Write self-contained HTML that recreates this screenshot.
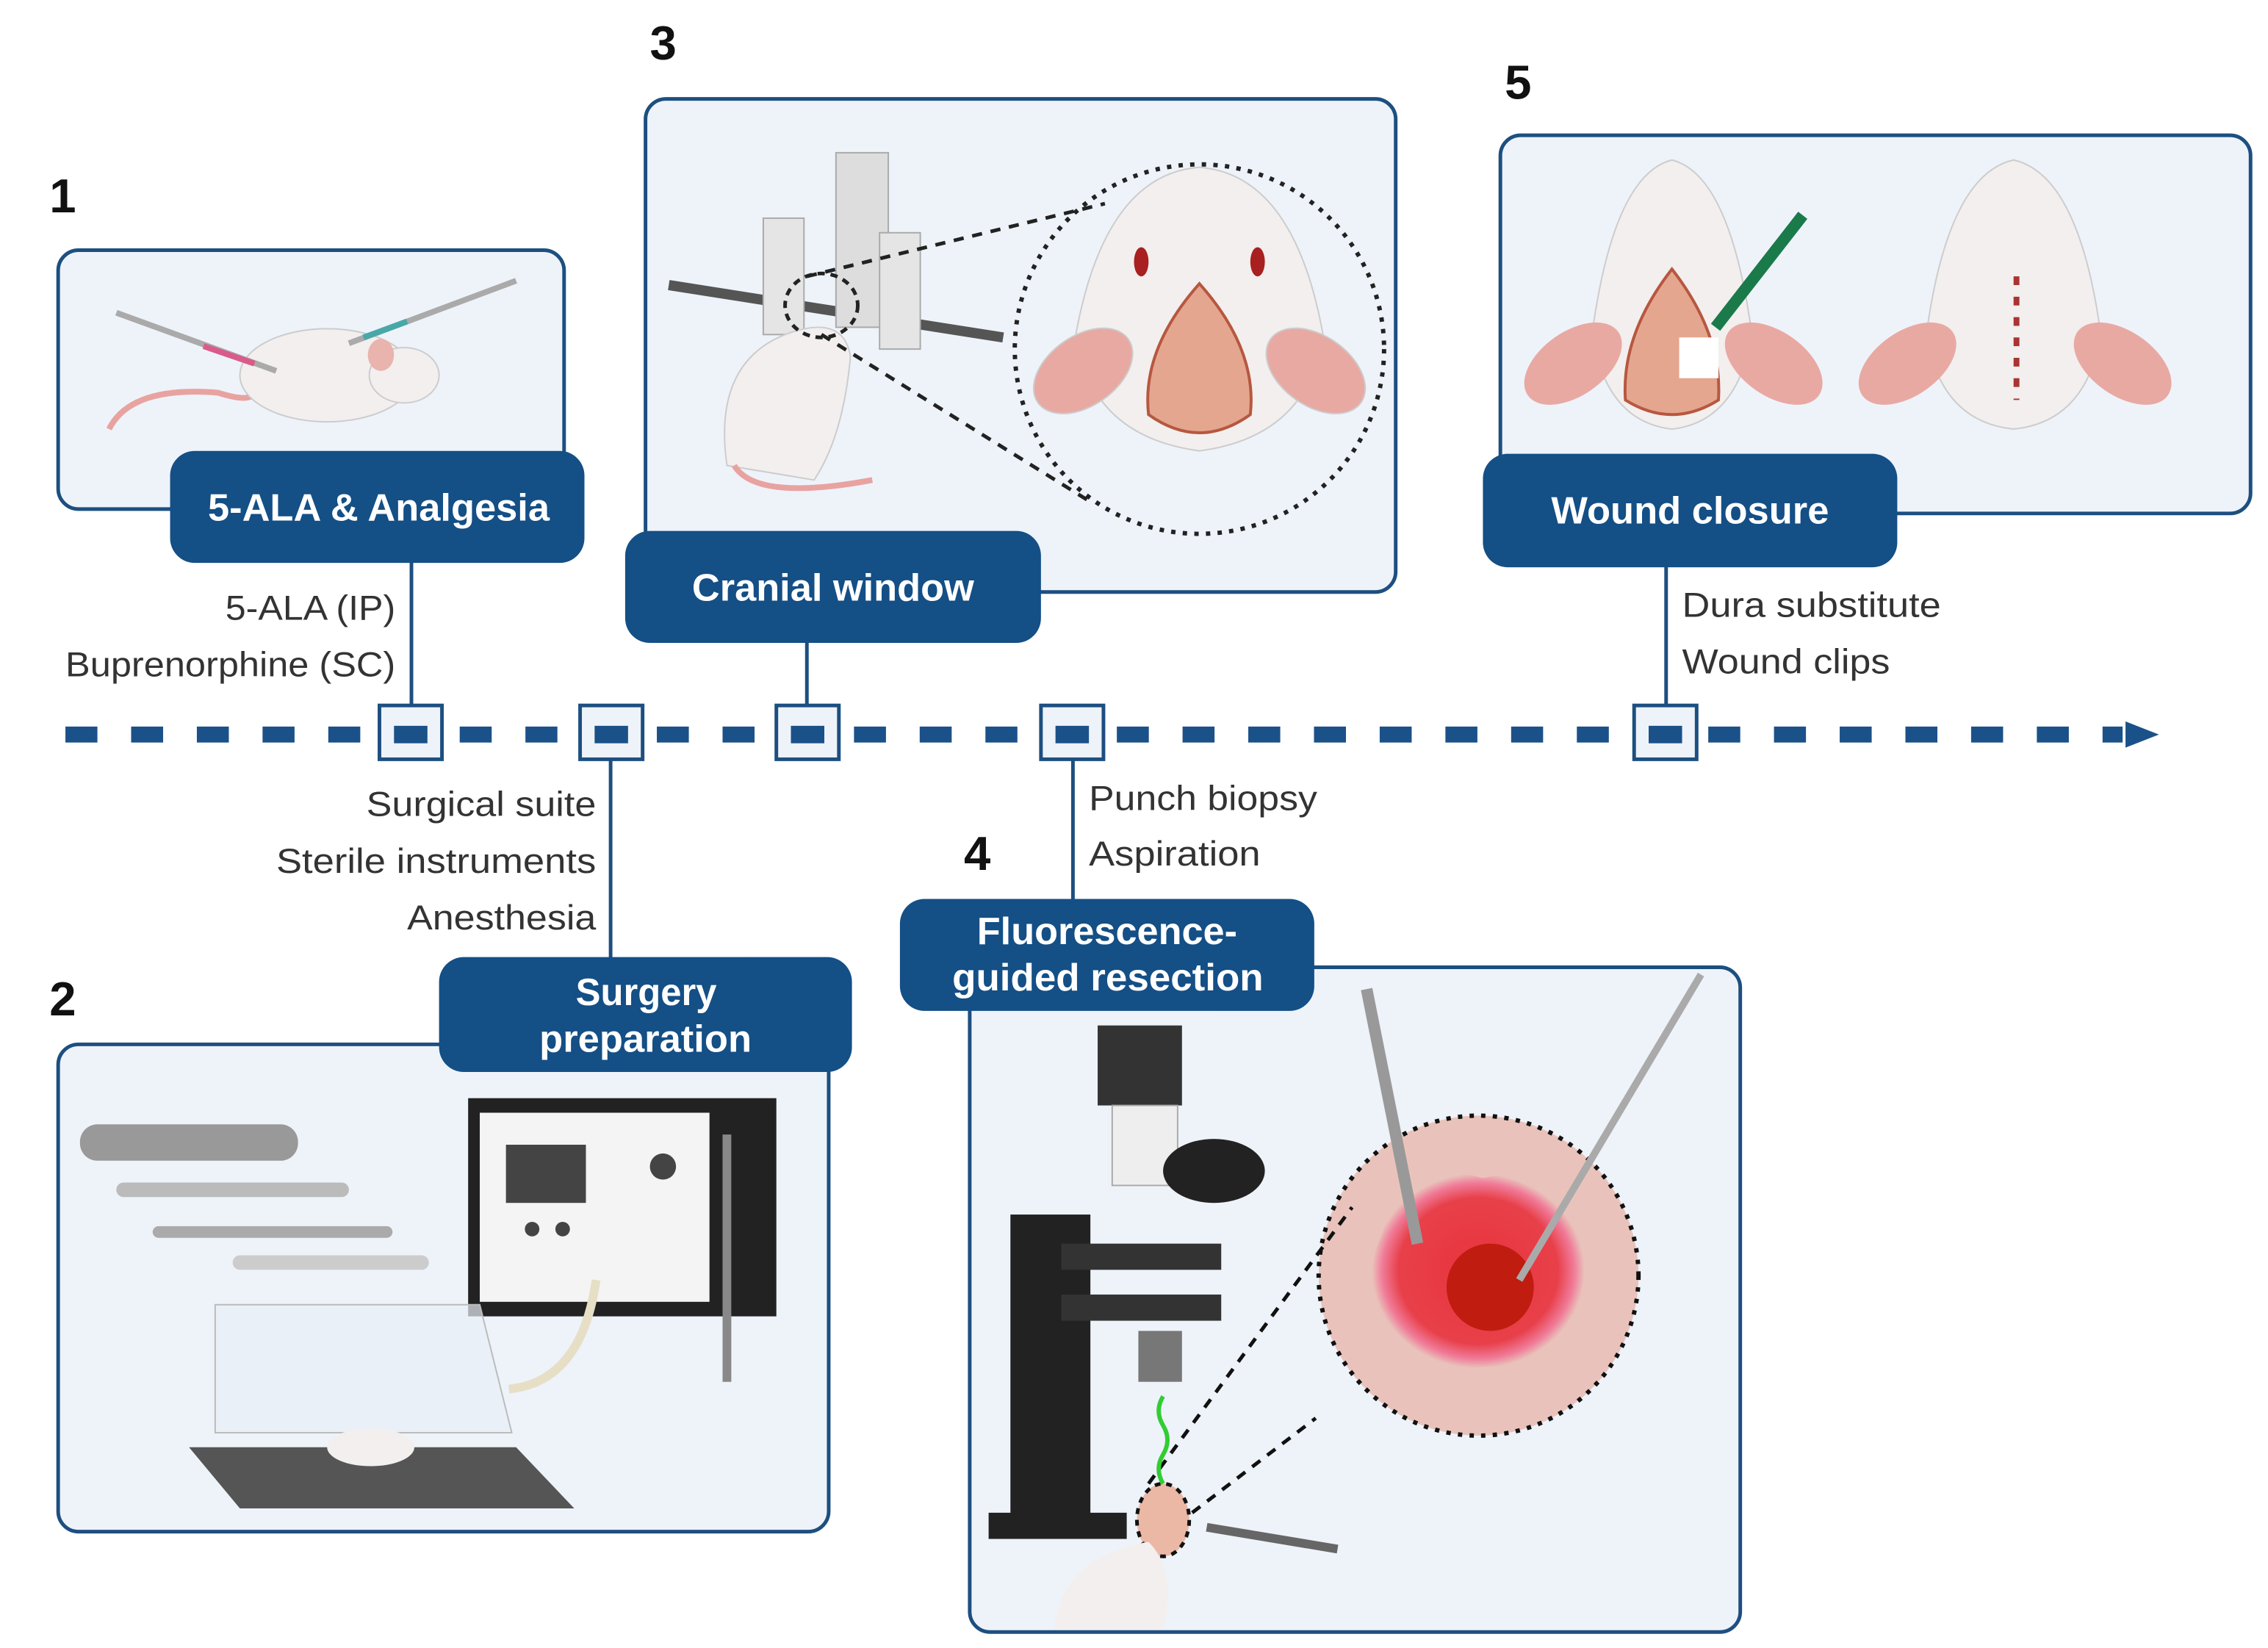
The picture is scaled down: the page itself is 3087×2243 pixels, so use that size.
<!DOCTYPE html>
<html><head><meta charset="utf-8"><style>
html,body{margin:0;padding:0;background:#fff;}
svg{display:block;}
text{font-family:"Liberation Sans",sans-serif;}
</style></head><body>
<svg width="3087" height="2243" viewBox="0 0 1560 1133" preserveAspectRatio="none" xmlns="http://www.w3.org/2000/svg">
<defs>
<radialGradient id="tum" cx="50%" cy="50%" r="50%">
<stop offset="0" stop-color="#e8333c"/><stop offset="0.75" stop-color="#e8404a"/><stop offset="0.9" stop-color="#f07a98"/><stop offset="1" stop-color="#e9c3bb"/>
</radialGradient>
</defs>
<g fill="#eef3fa" stroke="#1d4f80" stroke-width="2.5">
<rect x="40" y="172" width="348" height="178" rx="14"/>
<rect x="444" y="68" width="516" height="339" rx="14"/>
<rect x="1032" y="93" width="516" height="260" rx="14"/>
<rect x="40" y="718" width="530" height="335" rx="14"/>
<rect x="667" y="665" width="530" height="457" rx="14"/>
</g>
<!-- panel 1 mouse -->
<g>
<path d="M75 295 Q90 265 150 270 Q175 278 175 268" fill="none" stroke="#e8a3a0" stroke-width="4"/>
<ellipse cx="225" cy="258" rx="60" ry="32" fill="#f2efee" stroke="#ccc"/>
<ellipse cx="278" cy="258" rx="24" ry="19" fill="#f2efee" stroke="#ccc"/>
<ellipse cx="262" cy="244" rx="9" ry="11" fill="#e9b3ae"/>
<line x1="80" y1="215" x2="190" y2="255" stroke="#aaa" stroke-width="4"/>
<line x1="140" y1="238" x2="175" y2="250" stroke="#d95b8a" stroke-width="4"/>
<line x1="240" y1="236" x2="355" y2="193" stroke="#aaa" stroke-width="4"/>
<line x1="250" y1="232" x2="280" y2="221" stroke="#48a8a8" stroke-width="4"/>
</g>
<!-- panel 3 -->
<g>
<line x1="460" y1="196" x2="690" y2="232" stroke="#555" stroke-width="7"/>
<rect x="575" y="105" width="36" height="120" fill="#ddd" stroke="#aaa"/>
<rect x="525" y="150" width="28" height="80" fill="#e5e5e5" stroke="#aaa"/>
<rect x="605" y="160" width="28" height="80" fill="#e5e5e5" stroke="#aaa"/>
<path d="M500 320 Q490 250 540 230 Q580 215 585 245 Q580 300 560 330 Z" fill="#f2efee" stroke="#ccc"/>
<path d="M505 320 Q520 345 600 330" fill="none" stroke="#e8a3a0" stroke-width="4"/>
<circle cx="825" cy="240" r="127" fill="#eef3fa" stroke="#222" stroke-width="3" stroke-dasharray="3 5"/>
<path d="M740 230 Q760 120 825 115 Q890 120 910 230 Q900 300 825 310 Q750 300 740 230Z" fill="#f2efee" stroke="#ccc"/>
<ellipse cx="745" cy="255" rx="38" ry="24" transform="rotate(-35 745 255)" fill="#e9a9a3" stroke="#ccc"/>
<ellipse cx="905" cy="255" rx="38" ry="24" transform="rotate(35 905 255)" fill="#e9a9a3" stroke="#ccc"/>
<path d="M825 195 Q865 240 860 285 Q825 310 790 285 Q785 240 825 195Z" fill="#e4a68f" stroke="#b7573f" stroke-width="2"/>
<ellipse cx="785" cy="180" rx="5" ry="10" fill="#a82020"/><ellipse cx="865" cy="180" rx="5" ry="10" fill="#a82020"/>
<line x1="555" y1="190" x2="760" y2="140" stroke="#222" stroke-width="2.5" stroke-dasharray="7 6"/>
<line x1="565" y1="230" x2="750" y2="345" stroke="#222" stroke-width="2.5" stroke-dasharray="7 6"/>
<ellipse cx="565" cy="210" rx="25" ry="22" fill="none" stroke="#222" stroke-width="2.5" stroke-dasharray="5 4"/>
</g>
<!-- panel 5 -->
<g>
<path d="M1095 230 Q1110 120 1150 110 Q1190 120 1205 230 Q1195 290 1150 295 Q1105 290 1095 230Z" fill="#f2efee" stroke="#ccc"/>
<ellipse cx="1082" cy="250" rx="38" ry="22" transform="rotate(-35 1082 250)" fill="#e9a9a3"/>
<ellipse cx="1220" cy="250" rx="38" ry="22" transform="rotate(35 1220 250)" fill="#e9a9a3"/>
<path d="M1150 185 Q1185 230 1182 275 Q1150 295 1118 275 Q1115 230 1150 185Z" fill="#e4a68f" stroke="#b7573f" stroke-width="2"/>
<rect x="1155" y="232" width="27" height="28" fill="#fff"/>
<line x1="1180" y1="225" x2="1240" y2="148" stroke="#1a7a4a" stroke-width="8"/>
<path d="M1325 230 Q1340 120 1385 110 Q1430 120 1445 230 Q1435 290 1385 295 Q1335 290 1325 230Z" fill="#f2efee" stroke="#ccc"/>
<ellipse cx="1312" cy="250" rx="38" ry="22" transform="rotate(-35 1312 250)" fill="#e9a9a3"/>
<ellipse cx="1460" cy="250" rx="38" ry="22" transform="rotate(35 1460 250)" fill="#e9a9a3"/>
<line x1="1387" y1="190" x2="1387" y2="275" stroke="#a33" stroke-width="4" stroke-dasharray="6 8"/>
</g>
<!-- panel 2 -->
<g>
<rect x="322" y="755" width="212" height="150" fill="#222"/>
<rect x="330" y="765" width="158" height="130" fill="#f4f4f4"/>
<rect x="348" y="787" width="55" height="40" fill="#444"/>
<circle cx="456" cy="802" r="9" fill="#444"/><circle cx="366" cy="845" r="5" fill="#444"/><circle cx="387" cy="845" r="5" fill="#444"/>
<rect x="55" y="773" width="150" height="25" rx="12" fill="#999"/>
<rect x="80" y="813" width="160" height="10" rx="5" fill="#bbb"/>
<rect x="105" y="843" width="165" height="8" rx="4" fill="#aaa"/>
<rect x="160" y="863" width="135" height="10" rx="5" fill="#ccc"/>
<polygon points="130,995 355,995 395,1037 165,1037" fill="#555"/>
<polygon points="148,897 330,897 352,985 148,985" fill="#e8eef5" fill-opacity="0.7" stroke="#bbb"/>
<ellipse cx="255" cy="995" rx="30" ry="13" fill="#f2efee"/>
<path d="M350 955 Q400 950 410 880" fill="none" stroke="#e6dfc6" stroke-width="6"/>
<line x1="500" y1="780" x2="500" y2="950" stroke="#888" stroke-width="6"/>
</g>
<!-- panel 4 -->
<g>
<rect x="755" y="705" width="58" height="55" fill="#333"/>
<rect x="765" y="760" width="45" height="55" fill="#eee" stroke="#aaa"/>
<ellipse cx="835" cy="805" rx="35" ry="22" fill="#222"/>
<rect x="695" y="835" width="55" height="220" fill="#222"/>
<rect x="680" y="1040" width="95" height="18" fill="#222"/>
<rect x="730" y="855" width="110" height="18" fill="#333"/>
<rect x="730" y="890" width="110" height="18" fill="#333"/>
<rect x="783" y="915" width="30" height="35" fill="#777"/>
<circle cx="1017" cy="877" r="110" fill="#e9c3bb" stroke="#111" stroke-width="3" stroke-dasharray="3 5"/>
<path d="M960 820 Q990 800 1020 810 Q1060 800 1080 830 Q1100 870 1080 910 Q1060 940 1020 940 Q980 945 955 920 Q935 880 950 850Z" fill="url(#tum)"/>
<circle cx="1025" cy="885" r="30" fill="#c01c10"/>
<line x1="940" y1="680" x2="975" y2="855" stroke="#999" stroke-width="8"/>
<line x1="1170" y1="670" x2="1045" y2="880" stroke="#aaa" stroke-width="5"/>
<line x1="820" y1="1040" x2="905" y2="975" stroke="#111" stroke-width="2.5" stroke-dasharray="7 6"/>
<line x1="790" y1="1020" x2="930" y2="830" stroke="#111" stroke-width="2.5" stroke-dasharray="7 6"/>
<ellipse cx="800" cy="1045" rx="18" ry="25" fill="#eab8a5" stroke="#111" stroke-width="2.5" stroke-dasharray="4 4"/>
<path d="M800 960 q-6 10 0 20 q6 10 0 20 q-6 10 0 20" fill="none" stroke="#3c3" stroke-width="3"/>
<path d="M725 1120 Q730 1070 790 1060 Q810 1080 800 1120Z" fill="#f2efee"/>
<line x1="830" y1="1050" x2="920" y2="1065" stroke="#666" stroke-width="6"/>
</g>
<!-- connectors -->
<g stroke="#1d4f80" stroke-width="2.5">
<line x1="283" y1="385" x2="283" y2="487"/>
<line x1="555" y1="440" x2="555" y2="487"/>
<line x1="1146" y1="388" x2="1146" y2="487"/>
<line x1="420" y1="522" x2="420" y2="660"/>
<line x1="738" y1="522" x2="738" y2="620"/>
</g>
<!-- timeline -->
<line x1="45" y1="505" x2="1460" y2="505" stroke="#1b5189" stroke-width="11" stroke-dasharray="22 23.2"/>
<polygon points="1462,496 1485,505 1462,514" fill="#1b5189"/>
<g fill="#eef3fa" stroke="#1d4f80" stroke-width="2.5">
<rect x="261" y="485" width="43" height="37"/>
<rect x="399" y="485" width="43" height="37"/>
<rect x="534" y="485" width="43" height="37"/>
<rect x="716" y="485" width="43" height="37"/>
<rect x="1124" y="485" width="43" height="37"/>
</g>
<g fill="#1b5189">
<rect x="271" y="499" width="23" height="12"/><rect x="409" y="499" width="23" height="12"/>
<rect x="544" y="499" width="23" height="12"/><rect x="726" y="499" width="23" height="12"/>
<rect x="1134" y="499" width="23" height="12"/>
</g>
<!-- labels -->
<g fill="#144f86">
<rect x="117" y="310" width="285" height="77" rx="17"/>
<rect x="430" y="365" width="286" height="77" rx="17"/>
<rect x="1020" y="312" width="285" height="78" rx="17"/>
<rect x="302" y="658" width="284" height="79" rx="17"/>
<rect x="619" y="618" width="285" height="77" rx="17"/>
</g>
<g fill="#fff" font-size="26" font-weight="bold" lengthAdjust="spacingAndGlyphs">
<text x="143" y="358" textLength="235" lengthAdjust="spacingAndGlyphs">5-ALA &amp; Analgesia</text>
<text x="476" y="413" textLength="194" lengthAdjust="spacingAndGlyphs">Cranial window</text>
<text x="1067" y="360" textLength="191" lengthAdjust="spacingAndGlyphs">Wound closure</text>
<text x="396" y="691" textLength="97" lengthAdjust="spacingAndGlyphs">Surgery</text>
<text x="371" y="723" textLength="146" lengthAdjust="spacingAndGlyphs">preparation</text>
<text x="672" y="649" textLength="179" lengthAdjust="spacingAndGlyphs">Fluorescence-</text>
<text x="655" y="681" textLength="214" lengthAdjust="spacingAndGlyphs">guided resection</text>
</g>
<g fill="#333" font-size="24">
<text x="155" y="426" textLength="117" lengthAdjust="spacingAndGlyphs">5-ALA (IP)</text>
<text x="45" y="465" textLength="227" lengthAdjust="spacingAndGlyphs">Buprenorphine (SC)</text>
<text x="252" y="561" textLength="158" lengthAdjust="spacingAndGlyphs">Surgical suite</text>
<text x="190" y="600" textLength="220" lengthAdjust="spacingAndGlyphs">Sterile instruments</text>
<text x="280" y="639" textLength="130" lengthAdjust="spacingAndGlyphs">Anesthesia</text>
<text x="749" y="557" textLength="157" lengthAdjust="spacingAndGlyphs">Punch biopsy</text>
<text x="749" y="595" textLength="118" lengthAdjust="spacingAndGlyphs">Aspiration</text>
<text x="1157" y="424" textLength="178" lengthAdjust="spacingAndGlyphs">Dura substitute</text>
<text x="1157" y="463" textLength="143" lengthAdjust="spacingAndGlyphs">Wound clips</text>
</g>
<g fill="#111" font-size="33" font-weight="bold">
<text x="34" y="146">1</text>
<text x="447" y="41">3</text>
<text x="1035" y="68">5</text>
<text x="34" y="698">2</text>
<text x="663" y="598">4</text>
</g>
</svg>
</body></html>
